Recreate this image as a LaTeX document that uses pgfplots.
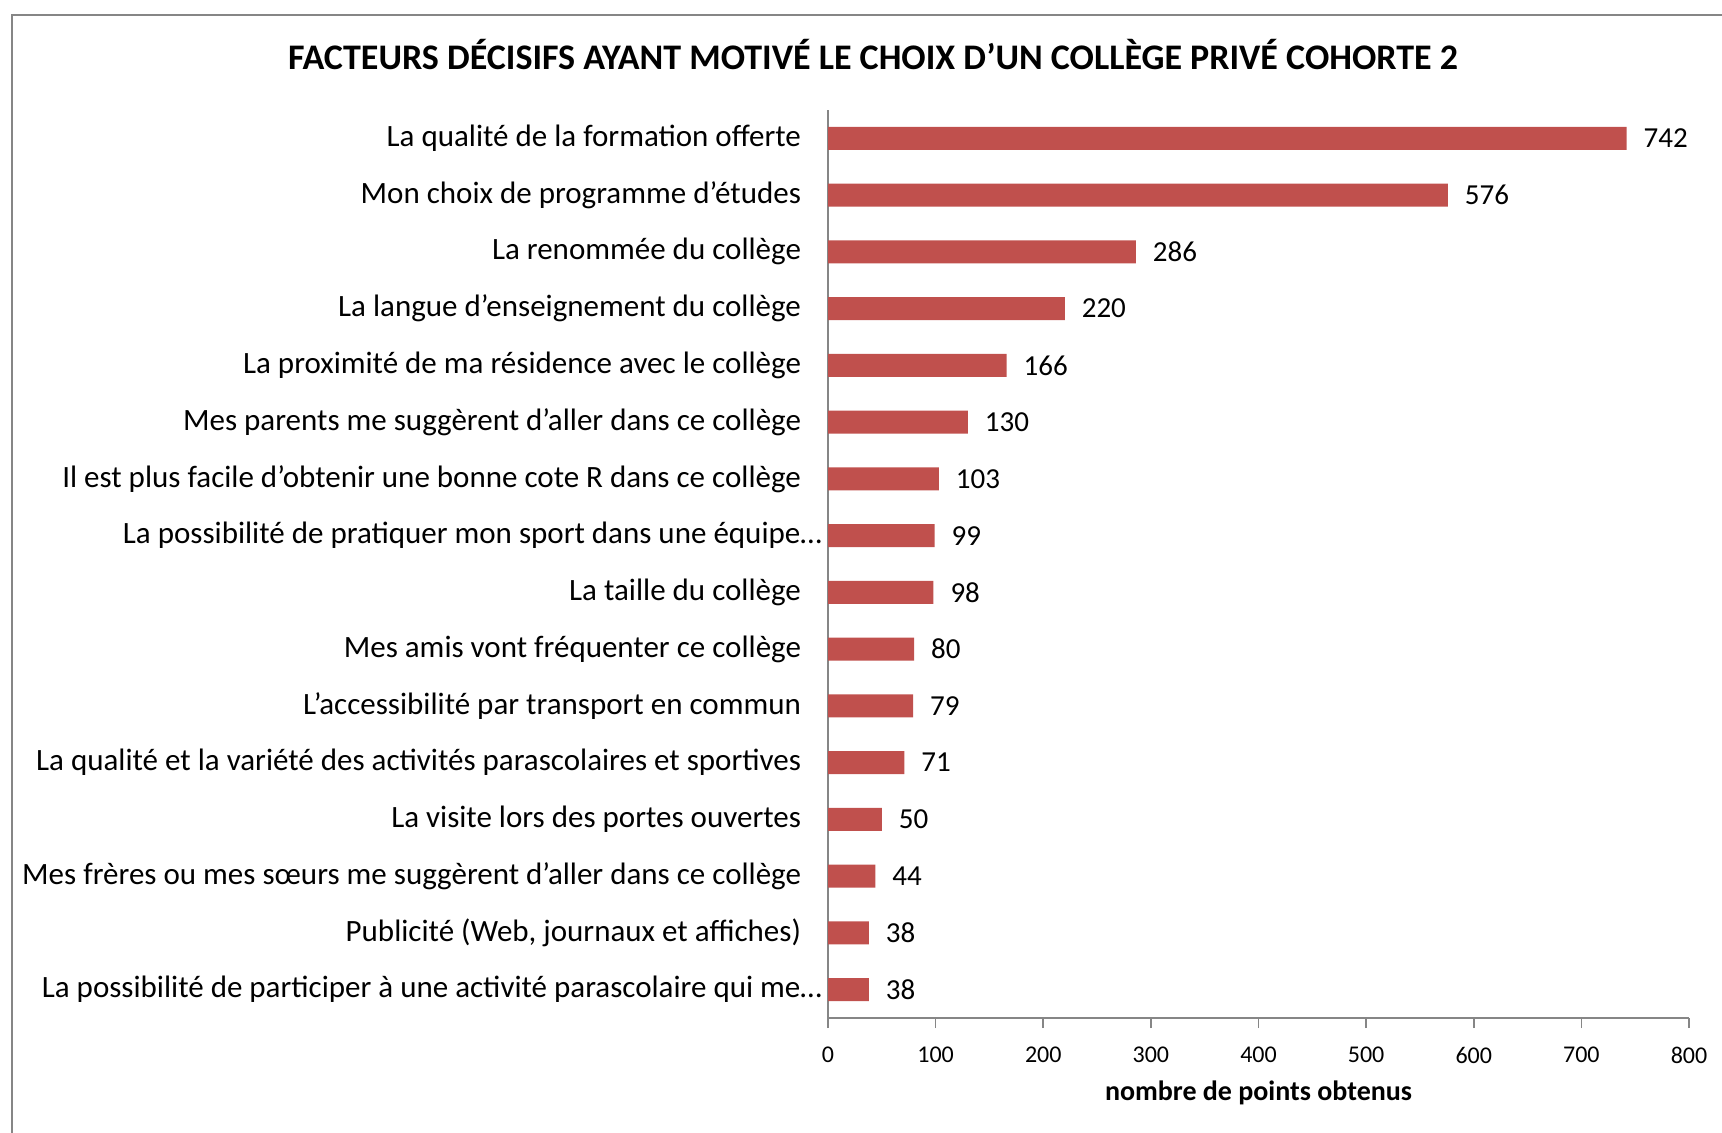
\documentclass[border=0pt]{standalone}
\usepackage{fontspec}
\setmainfont{Carlito}
\usepackage{pgfplots}
\pgfplotsset{compat=1.18}
\definecolor{barred}{HTML}{C0504D}
\definecolor{axgray}{HTML}{868686}

\begin{document}
\begin{tikzpicture}
\useasboundingbox (0,0) rectangle (861pt,566pt);
% chart frame (cut off on the right and bottom, as in the original)
\draw[axgray, line width=1pt] (6pt,-20pt) -- (6pt,558.5pt) -- (900pt,558.5pt);
\node[font=\bfseries\fontsize{18}{20}\selectfont] at (436.5pt,538.5pt)
  {FACTEURS DÉCISIFS AYANT MOTIVÉ LE CHOIX D’UN COLLÈGE PRIVÉ COHORTE 2};
\begin{axis}[
    at={(414pt,57pt)}, anchor=south west,
    scale only axis,
    width=430.5pt, height=454pt,
    xbar,
    bar width=11.5pt,
    xmin=0, xmax=800,
    ymin=-0.5, ymax=15.5,
    axis lines=left,
    axis line style={-, axgray, line width=0.8pt},
    xtick={0,100,...,800},
    tick align=outside,
    major tick length=5pt,
    x tick style={axgray, line width=0.8pt},
    ytick={0,...,15},
    y tick style={draw=none},
    yticklabels={
      {La possibilité de participer à une activité parascolaire qui me…\kern-10.5pt},
      {Publicité (Web, journaux et affiches)},
      {Mes frères ou mes sœurs me suggèrent d’aller dans ce collège},
      {La visite lors des portes ouvertes},
      {La qualité et la variété des activités parascolaires et sportives},
      {L’accessibilité par transport en commun},
      {Mes amis vont fréquenter ce collège},
      {La taille du collège},
      {La possibilité de pratiquer mon sport dans une équipe…\kern-10.5pt},
      {Il est plus facile d’obtenir une bonne cote R dans ce collège},
      {Mes parents me suggèrent d’aller dans ce collège},
      {La proximité de ma résidence avec le collège},
      {La langue d’enseignement du collège},
      {La renommée du collège},
      {Mon choix de programme d’études},
      {La qualité de la formation offerte}},
    yticklabel style={font=\fontsize{15.5}{17}\selectfont, anchor=east, xshift=-5pt},
    xticklabel style={font=\fontsize{12}{14}\selectfont, yshift=-6pt},
    /pgf/number format/assume math mode=true,
    xlabel={nombre de points obtenus},
    xlabel style={font=\bfseries\fontsize{14}{16}\selectfont,
                  at={(axis description cs:0.5,0)}, anchor=center, yshift=-37.5pt},
    nodes near coords,
    nodes near coords style={font=\fontsize{14.5}{16}\selectfont, anchor=west, xshift=5pt},
    clip=false,
]
\addplot[fill=barred, draw=none] coordinates {
  (38,0) (38,1) (44,2) (50,3) (71,4) (79,5) (80,6) (98,7)
  (99,8) (103,9) (130,10) (166,11) (220,12) (286,13) (576,14) (742,15)
};
\end{axis}
\end{tikzpicture}
\end{document}
